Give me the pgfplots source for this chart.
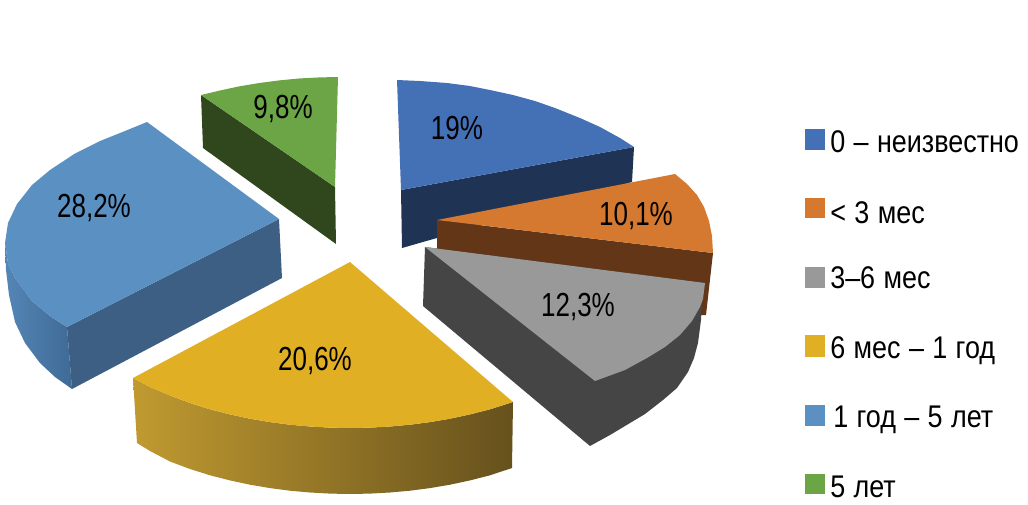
\documentclass[border=0pt]{standalone}
\usepackage{pgfplots}
\pgfplotsset{compat=1.18}
\usepackage{fontspec}
\setmainfont[FakeStretch=0.78]{Liberation Sans}
\newfontfamily\legfont[FakeStretch=0.86,WordSpace=1.12]{Liberation Sans}
\definecolor{cBlue}{HTML}{4470B6}
\definecolor{cBlueD}{HTML}{1F3355}
\definecolor{cOrange}{HTML}{D4792F}
\definecolor{cOrangeD}{HTML}{623616}
\definecolor{cGray}{HTML}{999999}
\definecolor{cGrayD}{HTML}{454545}
\definecolor{cYellow}{HTML}{E1AF24}
\definecolor{cYellowL}{HTML}{C09A30}
\definecolor{cYellowR}{HTML}{66511D}
\definecolor{cSky}{HTML}{5B90C2}
\definecolor{cSkyD}{HTML}{3C5F83}
\definecolor{cSkyL}{HTML}{5586B6}
\definecolor{cSkyR}{HTML}{3F6A96}
\definecolor{cGreen}{HTML}{6BA545}
\definecolor{cGreenD}{HTML}{30471E}
\tikzset{
  lab/.style={font=\fontsize{25pt}{27pt}\selectfont, text=black, anchor=base, inner sep=0pt},
  leg/.style={font=\legfont\fontsize{23.5pt}{25pt}\selectfont, text=black, anchor=base west, inner sep=0pt},
}
\begin{document}
\begin{tikzpicture}
\useasboundingbox (0,0) rectangle (771pt,378pt);
\begin{axis}[
  at={(0,0)}, anchor=south west,
  scale only axis, width=771pt, height=378pt,
  xmin=0, xmax=1028, ymin=0, ymax=504, y dir=reverse,
  hide axis, clip=false,
  every axis plot/.append style={draw=none},
]
% 0 - unknown
\addplot[fill=cBlueD] coordinates {(401,190)(634,147)(632,182)(402,248)} -- cycle;
\addplot[fill=cBlue] coordinates {(401,190)(397,80)(420,81)(447,83)(470,86)(490,90)(513,95)(535,101)(555,108)(580,118)(600,127)(620,138)(634,147)} -- cycle;
% < 3 months, side
\addplot[fill=cOrangeD] coordinates {(437,220)(713,253)(706,315)(700,315)(690,290)(437,252)} -- cycle;
% 3-6 months
\addplot[fill=cGrayD] coordinates {(425,247)(705,283)(702,303)(701,320)(698,343)(694,358)(688,372)(677,388)(663,400)(645,414)(630,423)(610,435)(590,446)(423,306)} -- cycle;
\addplot[fill=cGray] coordinates {(425,247)(705,283)(703,299)(700,307)(692,321)(680,335)(665,347)(647,358)(625,370)(595,381)} -- cycle;
% < 3 months, top
\addplot[fill=cOrange] coordinates {(437,220)(675,174)(687,184)(697,195)(704,207)(709,221)(712,236)(713,253)} -- cycle;
% 6 months - 1 year
\addplot[left color=cYellowL, right color=cYellowR] coordinates {(133,378)(150,387)(170,395.5)(190,403)(210,409.3)(230,414.4)(250,418.7)(270,422.1)(290,424.7)(310,426.5)(330,427.6)(350,428)(370,427.6)(390,426.5)(410,424.7)(430,422.1)(450,418.7)(470,414.4)(490,409.3)(513,402)(512,468)(490,475.3)(470,480.4)(450,484.7)(430,488.1)(410,490.7)(390,492.5)(370,493.6)(350,494)(330,493.6)(310,492.5)(290,490.7)(270,488.1)(250,484.7)(230,480.4)(210,475.3)(190,469)(170,461.5)(150,451)(137,443)} -- cycle;
\addplot[fill=cYellow] coordinates {(350,262)(513,402)(490,409.3)(470,414.4)(450,418.7)(430,422.1)(410,424.7)(390,426.5)(370,427.6)(350,428)(330,427.6)(310,426.5)(290,424.7)(270,422.1)(250,418.7)(230,414.4)(210,409.3)(190,403)(170,395.5)(150,387)(133,378)} -- cycle;
% 1-5 years
\addplot[left color=cSkyL, right color=cSkyR] coordinates {(5,243)(8,263)(15,278)(32,301)(50,316)(67,327)(72,389)(55,377)(40,363)(25,343)(15,322)(9,295)(6,270)} -- cycle;
\addplot[fill=cSkyD] coordinates {(279,219)(282,278)(72,389)(67,327)} -- cycle;
\addplot[fill=cSky] coordinates {(279,219)(147,122)(125,131)(100,141)(75,153.5)(50,170)(32,185)(17,204)(8,223)(5,243)(8,263)(15,278)(32,301)(50,316)(67,327)} -- cycle;
% 5 years
\addplot[fill=cGreenD] coordinates {(201,95)(203,148)(336,244)(335,187)} -- cycle;
\addplot[fill=cGreen] coordinates {(335,187)(201,95)(220,90.5)(240,86.2)(260,82.9)(280,80.3)(300,78.4)(320,77.4)(338,77)} -- cycle;
% legend keys
\addplot[fill=cBlue] coordinates {(805,129)(825,129)(825,150)(805,150)} -- cycle;
\addplot[fill=cOrange] coordinates {(805,198)(825,198)(825,218)(805,218)} -- cycle;
\addplot[fill=cGray] coordinates {(805,267)(825,267)(825,288)(805,288)} -- cycle;
\addplot[fill=cYellow] coordinates {(805,335)(825,335)(825,357)(805,357)} -- cycle;
\addplot[fill=cSky] coordinates {(805,405)(825,405)(825,426)(805,426)} -- cycle;
\addplot[fill=cGreen] coordinates {(805,474)(825,474)(825,494)(805,494)} -- cycle;
% data labels
\node[lab] at (axis cs:457,139) {19\%};
\node[lab] at (axis cs:636,225) {10,1\%};
\node[lab] at (axis cs:578,316) {12,3\%};
\node[lab] at (axis cs:315,370) {20,6\%};
\node[lab] at (axis cs:94,217) {28,2\%};
\node[lab] at (axis cs:283,118) {9,8\%};
% legend labels
\node[leg] at (axis cs:830,152) {0 – неизвестно};
\node[leg] at (axis cs:830,223) {< 3 мес};
\node[leg] at (axis cs:830,288) {3–6 мес};
\node[leg] at (axis cs:830,358) {6 мес – 1 год};
\node[leg] at (axis cs:833,427) {1 год – 5 лет};
\node[leg] at (axis cs:830,497) {5 лет};
\end{axis}
\end{tikzpicture}
\end{document}
